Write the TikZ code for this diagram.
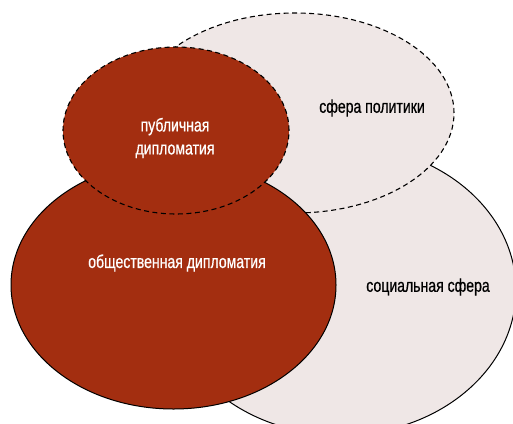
\documentclass[tikz,border=0pt]{standalone}
\usepackage{fontspec}
\setmainfont{Liberation Sans}[FakeStretch=0.76, FakeBold=0.6]
\usetikzlibrary{shapes.geometric}
\definecolor{rust}{RGB}{163,46,16}
\definecolor{pale}{RGB}{239,231,230}

\begin{document}
\begin{tikzpicture}[
    x=1pt, y=-1pt,
    sphere/.style={ellipse, draw, line width=1pt, inner sep=0pt, fill=pale},
    diplo/.style={sphere, fill=rust},
    border/.style={line width=1.1pt, dash pattern=on 5pt off 3.5pt},
    darktext/.style={text=black, font=\fontsize{18.5}{23}\selectfont, align=center},
    lighttext/.style={darktext, text=white}
]
    \useasboundingbox (0,0) rectangle (513,423);
    \clip (0,0) rectangle (513,423);

    % Spheres
    \node[sphere, minimum width=350, minimum height=290] (social) at (341,290) {};
    \node[sphere, border, minimum width=318, minimum height=200] (politics) at (295,113) {};

    % Diplomacy
    \node[diplo, minimum width=325, minimum height=248] (society) at (173.5,285) {};
    \node[diplo, border, minimum width=226, minimum height=167] (public) at (176,130.5) {};

    % Texts
    \node[darktext] (politics_txt) at (372,108) {сфера политики};
    \node[darktext] (social_txt) at (428,287) {социальная сфера};
    \node[lighttext] (public_txt) at (175,138) {публичная\\дипломатия};
    \node[lighttext] (society_txt) at (177,263) {общественная дипломатия};

\end{tikzpicture}
\end{document}
